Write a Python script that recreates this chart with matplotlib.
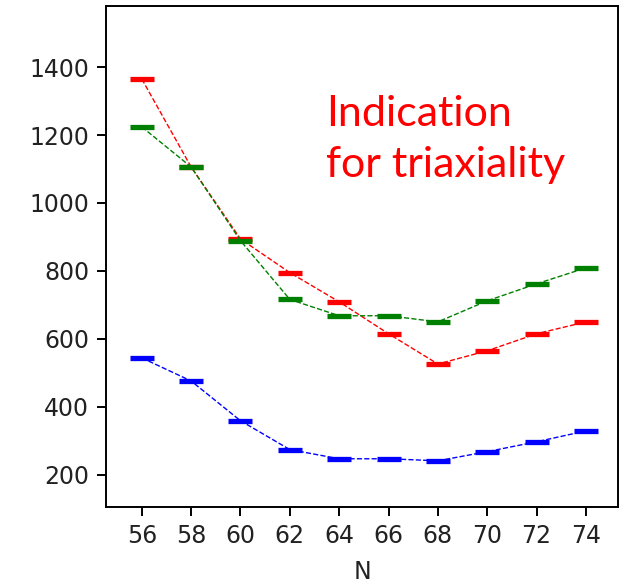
import matplotlib
matplotlib.use('Agg')
import matplotlib.pyplot as plt

# data
N = [56, 58, 60, 62, 64, 66, 68, 70, 72, 74]
red = [1365, 1106, 894, 795, 709, 615, 526, 565, 615, 650]
green = [1224, 1106, 889, 716, 668, 668, 650, 712, 762, 809]
blue = [544, 476, 359, 274, 247, 247, 241, 268, 297, 329]

fig = plt.figure(figsize=(6.36, 5.86), dpi=100)
ax = fig.add_axes([0.1667, 0.1348, 0.805, 0.855])

for vals, c in [(red, 'r'), (green, 'g'), (blue, 'b')]:
    ax.plot(N, vals, color=c, linestyle='--', linewidth=1.0,
            marker='_', markersize=17, markeredgewidth=3.8)

ax.set_xlim(54.55, 75.3)
ax.set_ylim(105, 1580)
ax.set_xticks(N)
ax.set_yticks([200, 400, 600, 800, 1000, 1200, 1400])
ax.tick_params(labelsize=17, length=6.2, width=1.4, pad=6, labelcolor='#222222')
for s in ax.spines.values():
    s.set_linewidth(1.4)
ax.set_xlabel('N', fontsize=17, labelpad=9, color='#222222')

ax.text(0.43, 0.822, 'Indication\nfor triaxiality', transform=ax.transAxes,
        color='red', fontsize=31, family='Lato', va='top', ha='left',
        linespacing=1.4)

fig.savefig('out.png', dpi=100)
